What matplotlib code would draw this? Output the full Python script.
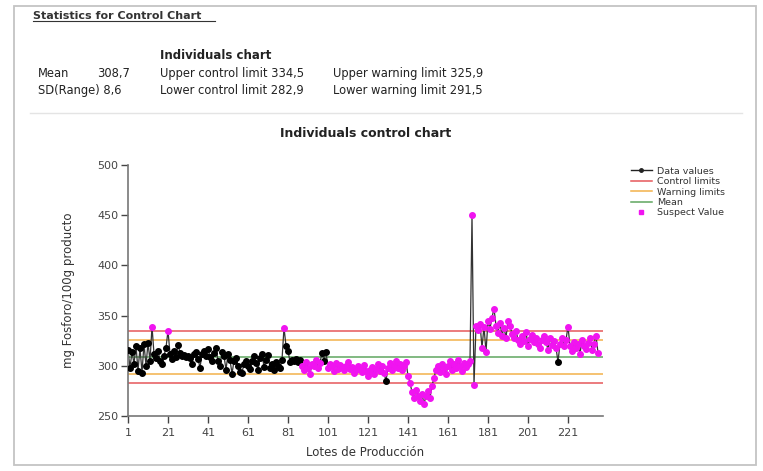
import numpy as np
import matplotlib.pyplot as plt
from matplotlib.lines import Line2D
from matplotlib.patches import Rectangle

# Phosphorus per production lot (mg / 100 g)
values = [
    316, 298, 314, 302, 320, 295, 318, 293, 322, 300, 323, 305,
    339,
    312, 308, 315, 305, 302, 310, 318,
    335,
    312, 307, 315, 309, 321, 313, 310, 311, 309,
    310, 308, 302, 312, 314, 307, 298, 312, 315, 310, 317, 309, 305, 313, 318,
    305, 300, 314, 310, 296, 312, 306, 292, 305, 308, 300, 294, 293, 302, 305,
    300, 297, 305, 310, 303, 296, 308, 312, 299, 306, 311, 298, 302, 296, 304, 300, 298, 306,
    338,
    320, 315, 304, 306, 305, 307, 304, 306,
    300, 296, 304, 298, 292, 302, 300, 306, 298, 303,
    313, 305, 314,
    298, 302, 300, 295, 303, 297, 301, 299, 296, 300, 304, 297, 299, 293, 296,
    300, 297, 294, 301, 295, 290, 296, 299, 292, 297, 302, 295, 300, 293,
    285,
    298, 303, 296, 300, 305, 298, 302, 296, 300, 304, 290, 283,
    274, 268, 276, 270, 265, 272, 262, 270, 275, 268,
    280, 288, 296, 300, 294, 302, 298, 292,
    300, 305, 296, 302, 298, 306, 300, 295, 303, 299, 302, 305,
    450,
    281,
    340, 336, 342, 318, 339, 314, 345, 337, 348, 357, 340, 333, 343, 330, 338, 328,
    345, 340, 332, 328, 335, 326, 322, 330, 325, 334, 320, 327, 331, 324, 328,
    322, 318, 326, 330, 324, 316, 328, 321, 325, 318, 304, 322, 328, 320, 326,
    339, 320, 315, 324, 318, 322, 312, 326, 320, 317, 323, 328, 316, 322, 330, 313,
]

# lots (1-based, inclusive ranges) that were NOT flagged as suspect
normal_ranges = [(1, 12), (14, 20), (22, 78), (80, 87), (98, 100), (130, 130), (216, 216)]

mean_val = 308.7
ucl, lcl = 334.5, 282.9
uwl, lwl = 325.9, 291.5
sd_range = 8.6

xticks = [1, 21, 41, 61, 81, 101, 121, 141, 161, 181, 201, 221]

c_red = "#e5575a"
c_orange = "#f2b24a"
c_green = "#5fa65f"
c_mag = "#f014f0"

lots = np.arange(1, len(values) + 1)
vals = np.array(values, dtype=float)
normal = np.zeros(len(values), dtype=bool)
for a, b in normal_ranges:
    normal[a - 1:b] = True

fig = plt.figure(figsize=(7.63, 4.71), dpi=100)
fig.patch.set_facecolor("white")

def fx(px):
    return px / 763

def fy(py):
    return 1 - py / 471

# panel frame
fig.patches.append(Rectangle((fx(14), fy(465)), fx(756 - 14), fy(6) - fy(465),
                             transform=fig.transFigure, fill=False, edgecolor="#c4c4c4", lw=1.3))
fig.add_artist(Line2D([fx(30), fx(742)], [fy(113), fy(113)], color="#e4e4e4", lw=1))

# header statistics
fig.text(fx(33), fy(19), "Statistics for Control Chart", fontsize=8, fontweight="bold",
         color="#333333", va="baseline")
fig.add_artist(Line2D([fx(33), fx(215)], [fy(21), fy(21)], color="#333333", lw=0.8))
fig.text(fx(160), fy(59), "Individuals chart", fontsize=8.5, fontweight="bold", color="#222222", va="baseline")
row1, row2 = fy(77), fy(94)
fs = 8.3
fig.text(fx(38), row1, "Mean", fontsize=fs, color="#222222", va="baseline")
fig.text(fx(97), row1, f"{mean_val:.1f}".replace(".", ","), fontsize=fs, color="#222222", va="baseline")
fig.text(fx(160), row1, f"Upper control limit {ucl:.1f}".replace(".", ","), fontsize=fs, color="#222222", va="baseline")
fig.text(fx(333), row1, f"Upper warning limit {uwl:.1f}".replace(".", ","), fontsize=fs, color="#222222", va="baseline")
fig.text(fx(38), row2, "SD(Range) " + f"{sd_range:.1f}".replace(".", ","), fontsize=fs, color="#222222", va="baseline")
fig.text(fx(160), row2, f"Lower control limit {lcl:.1f}".replace(".", ","), fontsize=fs, color="#222222", va="baseline")
fig.text(fx(333), row2, f"Lower warning limit {lwl:.1f}".replace(".", ","), fontsize=fs, color="#222222", va="baseline")

ax = fig.add_axes([fx(128), fy(416), fx(603 - 128), fy(165) - fy(416)])

ax.axhline(ucl, color=c_red, lw=1.1, zorder=1)
ax.axhline(lcl, color=c_red, lw=1.1, zorder=1)
ax.axhline(uwl, color=c_orange, lw=1.1, zorder=1)
ax.axhline(lwl, color=c_orange, lw=1.1, zorder=1)
ax.axhline(mean_val, color=c_green, lw=1.1, zorder=1)

ax.plot(lots, vals, color="#333333", lw=0.9, zorder=2)
ax.plot(lots[normal], vals[normal], "o", color="black", ms=4, zorder=3, lw=0)
ax.plot(lots[~normal], vals[~normal], "o", color=c_mag, ms=4, zorder=3, lw=0)

ax.set_xlim(1, 238.5)
ax.set_ylim(250, 500)
ax.set_xticks(xticks)
ax.set_yticks([250, 300, 350, 400, 450, 500])
for s in ["top", "right"]:
    ax.spines[s].set_visible(False)
for s in ["left", "bottom"]:
    ax.spines[s].set_color("#777777")
    ax.spines[s].set_linewidth(1.2)
ax.tick_params(colors="#444444", labelsize=8, length=5, width=1, direction="out")
ax.tick_params(axis="y", pad=2)

ax.set_title("Individuals control chart", fontsize=9, fontweight="bold", color="#222222", pad=20)
ax.set_ylabel("mg Fosforo/100g producto", fontsize=8.5, color="#333333", labelpad=16)
ax.set_xlabel("Lotes de Producción", fontsize=8.5, color="#333333", labelpad=6)

handles = [
    Line2D([], [], color="#222222", lw=1, marker="o", ms=2.5),
    Line2D([], [], color=c_red, lw=1.1),
    Line2D([], [], color=c_orange, lw=1.1),
    Line2D([], [], color=c_green, lw=1.1),
    Line2D([], [], color=c_mag, lw=0, marker="s", ms=3.5),
]
labels = ["Data values", "Control limits", "Warning limits", "Mean", "Suspect Value"]
fig.legend(handles, labels, loc="upper left", bbox_to_anchor=(fx(626), fy(162)), frameon=False,
           fontsize=6.8, handlelength=2.2, handletextpad=0.6, labelspacing=0.15, borderpad=0,
           labelcolor="#333333")

fig.savefig("out.png", dpi=100)
